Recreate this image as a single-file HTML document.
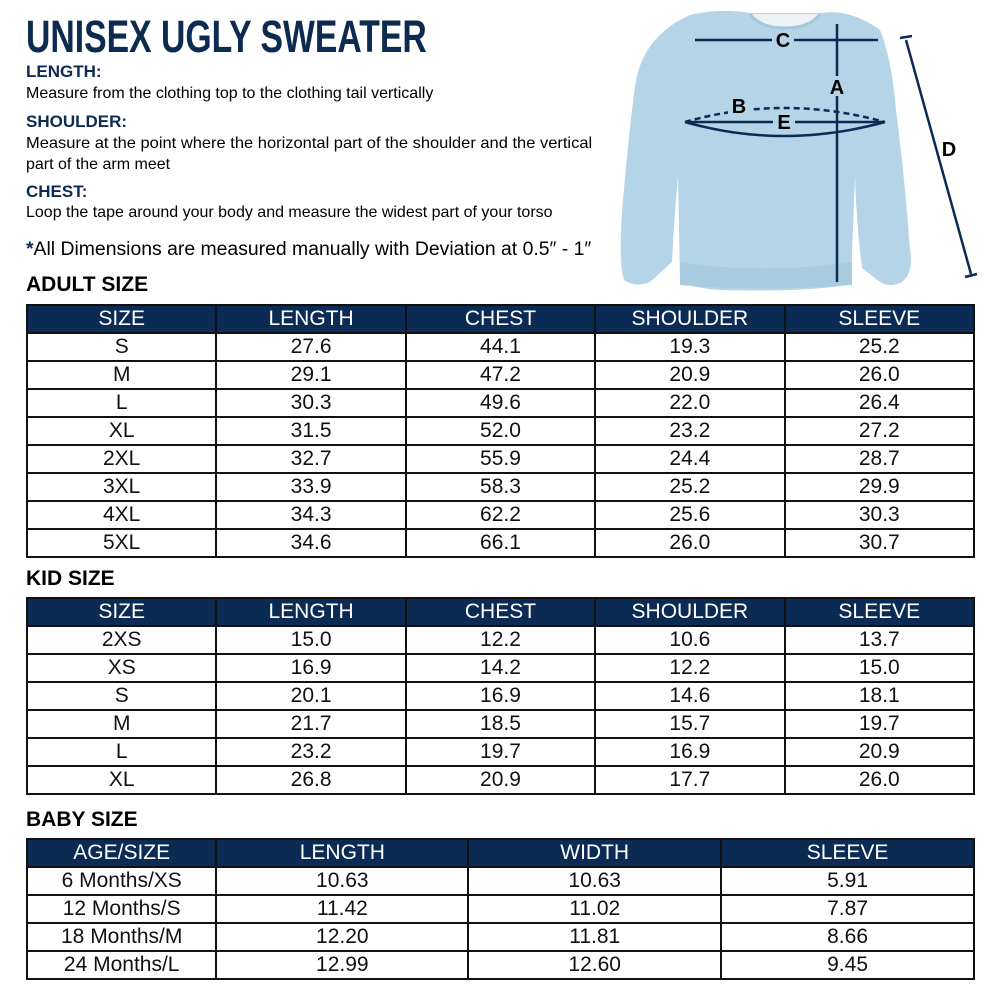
<!DOCTYPE html>
<html><head><meta charset="utf-8"><style>
body{margin:0;width:1000px;height:1000px;background:#fff;position:relative;font-family:"Liberation Sans",sans-serif;overflow:hidden}
.a{position:absolute;white-space:nowrap;transform-origin:left top}
.n{color:#0d2a50;font-weight:bold}
table{position:absolute;left:26px;border-collapse:collapse;table-layout:fixed;width:949px}
td,th{border:2px solid #111;text-align:center;font-size:21px;padding:0;line-height:24px}
th{background:#0b2b55;color:#fff;font-weight:normal;height:26px;border-color:#111}
td{height:26px;color:#111}
</style></head><body>
<div class="a n" style="left:26px;top:11px;font-size:45px;transform:scaleX(0.75)">UNISEX UGLY SWEATER</div>
<div class="a n" style="left:26px;top:62px;font-size:17px">LENGTH:</div>
<div class="a" style="left:26px;top:85px;font-size:16px">Measure from the clothing top to the clothing tail vertically</div>
<div class="a n" style="left:26px;top:112px;font-size:17px">SHOULDER:</div>
<div class="a" style="left:26px;top:135px;font-size:16px;transform:scaleX(1.03)">Measure at the point where the horizontal part of the shoulder and the vertical</div>
<div class="a" style="left:26px;top:156px;font-size:16px">part of the arm meet</div>
<div class="a n" style="left:26px;top:182px;font-size:17px">CHEST:</div>
<div class="a" style="left:26px;top:204px;font-size:16px">Loop the tape around your body and measure the widest part of your torso</div>
<div class="a" style="left:26px;top:239px;font-size:19px;transform:scaleX(1.02)"><span class="n">*</span>All Dimensions are measured manually with Deviation at 0.5″ - 1″</div>

<svg style="position:absolute;left:600px;top:0" width="400" height="300">
<path d="M90 15 Q120 8 150 13 L220 13 Q250 8 280 30 Q292 60 296 110 Q305 180 310 250 Q314 272 302 282 Q290 288 280 282 L262 268 Q256 220 255 175 L252 255 Q252 278 240 286 Q200 292 120 290 Q84 287 80 280 L78 175 Q74 220 72 262 L50 282 Q35 288 24 280 Q18 260 23 200 Q30 120 36 80 Q45 35 90 15 Z" fill="#b5d4e7"/>
<path d="M150 14 Q160 28 185 28 Q210 28 220 14" fill="#eef3f6" stroke="#a6c8dd" stroke-width="3"/>
<path d="M80 262 Q160 275 252 262 L252 285 Q160 292 80 285 Z" fill="#a9cbe0"/>
<g stroke="#0d2a56" stroke-width="2.5" fill="none">
<line x1="95" y1="40" x2="278" y2="40"/>
<line x1="237" y1="24" x2="237" y2="282"/>
<path d="M85 122 Q183 94 285 122" stroke-dasharray="6,4"/>
<path d="M85 122 Q183 150 285 122"/>
<line x1="88" y1="122" x2="283" y2="122"/>
<line x1="306" y1="40" x2="371" y2="274"/>
<line x1="300" y1="38" x2="312" y2="36"/><line x1="365" y1="277" x2="377" y2="274"/>
</g>
<g font-family="Liberation Sans" font-weight="bold" font-size="20" fill="#000" text-anchor="middle">
<rect x="172" y="30" width="22" height="20" fill="#b5d4e7"/><text x="183" y="47">C</text>
<rect x="226" y="76" width="22" height="20" fill="#b5d4e7"/><text x="237" y="94">A</text>
<rect x="128" y="96" width="22" height="20" fill="#b5d4e7"/><text x="139" y="113">B</text>
<rect x="173" y="112" width="22" height="20" fill="#b5d4e7"/><text x="184" y="129">E</text>
<text x="349" y="156">D</text>
</g>
</svg>

<div class="a" style="left:26px;top:273px;font-size:21px;font-weight:bold">ADULT SIZE</div>
<table style="top:304px">
<tr><th>SIZE</th><th>LENGTH</th><th>CHEST</th><th>SHOULDER</th><th>SLEEVE</th></tr>
<tr><td>S</td><td>27.6</td><td>44.1</td><td>19.3</td><td>25.2</td></tr>
<tr><td>M</td><td>29.1</td><td>47.2</td><td>20.9</td><td>26.0</td></tr>
<tr><td>L</td><td>30.3</td><td>49.6</td><td>22.0</td><td>26.4</td></tr>
<tr><td>XL</td><td>31.5</td><td>52.0</td><td>23.2</td><td>27.2</td></tr>
<tr><td>2XL</td><td>32.7</td><td>55.9</td><td>24.4</td><td>28.7</td></tr>
<tr><td>3XL</td><td>33.9</td><td>58.3</td><td>25.2</td><td>29.9</td></tr>
<tr><td>4XL</td><td>34.3</td><td>62.2</td><td>25.6</td><td>30.3</td></tr>
<tr><td>5XL</td><td>34.6</td><td>66.1</td><td>26.0</td><td>30.7</td></tr>
</table>

<div class="a" style="left:26px;top:567px;font-size:21px;font-weight:bold">KID SIZE</div>
<table style="top:597px">
<tr><th>SIZE</th><th>LENGTH</th><th>CHEST</th><th>SHOULDER</th><th>SLEEVE</th></tr>
<tr><td>2XS</td><td>15.0</td><td>12.2</td><td>10.6</td><td>13.7</td></tr>
<tr><td>XS</td><td>16.9</td><td>14.2</td><td>12.2</td><td>15.0</td></tr>
<tr><td>S</td><td>20.1</td><td>16.9</td><td>14.6</td><td>18.1</td></tr>
<tr><td>M</td><td>21.7</td><td>18.5</td><td>15.7</td><td>19.7</td></tr>
<tr><td>L</td><td>23.2</td><td>19.7</td><td>16.9</td><td>20.9</td></tr>
<tr><td>XL</td><td>26.8</td><td>20.9</td><td>17.7</td><td>26.0</td></tr>
</table>

<div class="a" style="left:26px;top:808px;font-size:21px;font-weight:bold">BABY SIZE</div>
<table style="top:838px;width:949px">
<colgroup><col style="width:20%"><col style="width:26.6%"><col style="width:26.7%"><col style="width:26.7%"></colgroup>
<tr><th>AGE/SIZE</th><th>LENGTH</th><th>WIDTH</th><th>SLEEVE</th></tr>
<tr><td>6 Months/XS</td><td>10.63</td><td>10.63</td><td>5.91</td></tr>
<tr><td>12 Months/S</td><td>11.42</td><td>11.02</td><td>7.87</td></tr>
<tr><td>18 Months/M</td><td>12.20</td><td>11.81</td><td>8.66</td></tr>
<tr><td>24 Months/L</td><td>12.99</td><td>12.60</td><td>9.45</td></tr>
</table>
</body></html>
